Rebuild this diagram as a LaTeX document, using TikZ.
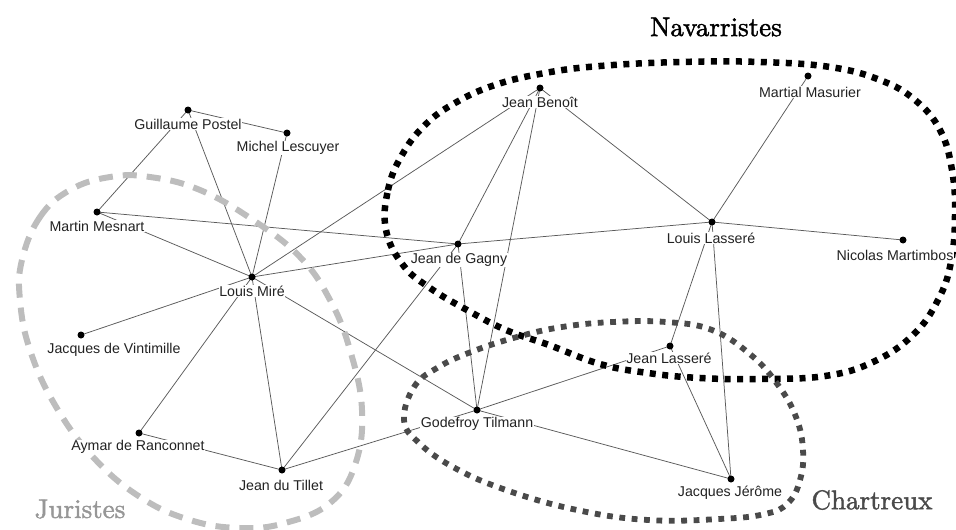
\documentclass[tikz,border=0pt]{standalone}
\usepackage{fontspec}
\newfontfamily\labfont{Liberation Sans}
\newfontfamily\titlefont{lmroman10-regular.otf}[FakeBold=1.6]
\definecolor{edgegray}{HTML}{5A5A5A}
\definecolor{labgray}{HTML}{222222}
\definecolor{jurgray}{HTML}{BDBDBD}
\definecolor{chargray}{HTML}{4A4A4A}
\begin{document}
\begin{tikzpicture}[x=1pt,y=-1pt,
  edge/.style={draw=edgegray,line width=0.75pt},
  dotnode/.style={circle,fill=black,minimum size=7pt,inner sep=0pt},
  lab/.style={font=\labfont\fontsize{14.2}{16}\selectfont,text=labgray,fill=white,inner sep=0.4pt},
  title/.style={font=\titlefont\fontsize{27}{30}\selectfont},
  navloop/.style={draw=black,line width=6.5pt,dash pattern=on 6pt off 6.5pt},
  charloop/.style={draw=chargray,line width=5.8pt,dash pattern=on 5.8pt off 6.6pt},
  jurloop/.style={draw=jurgray,line width=6pt,dash pattern=on 14pt off 10pt}]
\useasboundingbox (0,0) rectangle (956,530);
% node positions
\coordinate (gp) at (188,110);
\coordinate (ml) at (287,133);
\coordinate (mm) at (97,212);
\coordinate (lm) at (252,277);
\coordinate (jv) at (81,335);
\coordinate (ar) at (139,433);
\coordinate (jt) at (282,470);
\coordinate (jb) at (540,88);
\coordinate (ma) at (808,76);
\coordinate (ll) at (712,222);
\coordinate (nm) at (903,240);
\coordinate (jg) at (458,244);
\coordinate (jl) at (670,346);
\coordinate (gt) at (477,410);
\coordinate (jj) at (731,479);
% edges
\draw[edge] (gp) -- (ml);
\draw[edge] (gp) -- (mm);
\draw[edge] (gp) -- (lm);
\draw[edge] (ml) -- (lm);
\draw[edge] (mm) -- (lm);
\draw[edge] (mm) -- (jg);
\draw[edge] (lm) -- (jb);
\draw[edge] (lm) -- (jg);
\draw[edge] (lm) -- (jv);
\draw[edge] (lm) -- (ar);
\draw[edge] (lm) -- (jt);
\draw[edge] (lm) -- (gt);
\draw[edge] (ar) -- (jt);
\draw[edge] (jt) -- (jg);
\draw[edge] (jt) -- (gt);
\draw[edge] (jb) -- (jg);
\draw[edge] (jb) -- (gt);
\draw[edge] (jb) -- (ll);
\draw[edge] (jg) -- (ll);
\draw[edge] (jg) -- (gt);
\draw[edge] (ma) -- (ll);
\draw[edge] (ll) -- (nm);
\draw[edge] (ll) -- (jl);
\draw[edge] (ll) -- (jj);
\draw[edge] (jl) -- (gt);
\draw[edge] (jl) -- (jj);
\draw[edge] (gt) -- (jj);
% group loops
\draw[jurloop] plot[smooth cycle,tension=0.7] coordinates {(22,260) (40,217) (70,190) (110,177) (150,177) (200,190) (253,220) (300,257) (330,300) (350,350) (362,410) (355,465) (330,503) (285,523) (240,528) (190,520) (140,497) (93,457) (55,405) (30,350) (20,300)};
\draw[navloop] plot[smooth cycle,tension=0.7] coordinates {(386,230) (388,190) (402,155) (425,125) (455,103) (495,85) (545,73) (600,66) (680,62) (760,62) (830,67) (880,80) (915,100) (940,130) (952,170) (955,215) (951,262) (938,300) (913,335) (873,362) (825,376) (760,379) (700,378) (648,373) (600,364) (549,345) (506,330) (467,310) (430,288) (403,265)};
\draw[charloop] plot[smooth cycle,tension=0.7] coordinates {(404,420) (414,387) (437,368) (471,352) (517,337) (562,327) (613,322) (666,322) (712,330) (751,355) (778,385) (796,417) (803,450) (800,480) (788,503) (765,514) (719,519) (648,520) (577,510) (506,490) (453,467) (418,442)};
% labels
\node[lab] (gpl) at (188,124) {Guillaume Postel};
\node[lab] (mll) at (288,148) {Michel Lescuyer};
\node[lab] (mml) at (97,226) {Martin Mesnart};
\node[lab] (lml) at (252,291) {Louis Miré};
\node[lab] (jvl) at (114,350) {Jacques de Vintimille};
\node[lab] (arl) at (138,447) {Aymar de Ranconnet};
\node[lab] (jtl) at (281,485) {Jean du Tillet};
\node[lab] (jbl) at (540,102) {Jean Benoît};
\node[lab] (mal) at (810,92) {Martial Masurier};
\node[lab] (lll) at (711,238) {Louis Lasseré};
\node[lab] (nml) at (895,255) {Nicolas Martimbos};
\node[lab] (jgl) at (459,260) {Jean de Gagny};
\node[lab] (jll) at (669,358) {Jean Lasseré};
\node[lab] (gtl) at (477,424) {Godefroy Tilmann};
\node[lab] (jjl) at (730,493) {Jacques Jérôme};
% dots
\foreach \n in {gp,ml,mm,lm,jv,ar,jt,jb,ma,ll,nm,jg,jl,gt,jj}
  \node[dotnode] (\n-dot) at (\n) {};
% titles
\node[title,text=black] (navt) at (716,27) {Navarristes};
\node[title,text=chargray] (chart) at (872,500) {Chartreux};
\node[title,text=jurgray!80!black] (jurt) at (80,509) {Juristes};
\end{tikzpicture}
\end{document}
